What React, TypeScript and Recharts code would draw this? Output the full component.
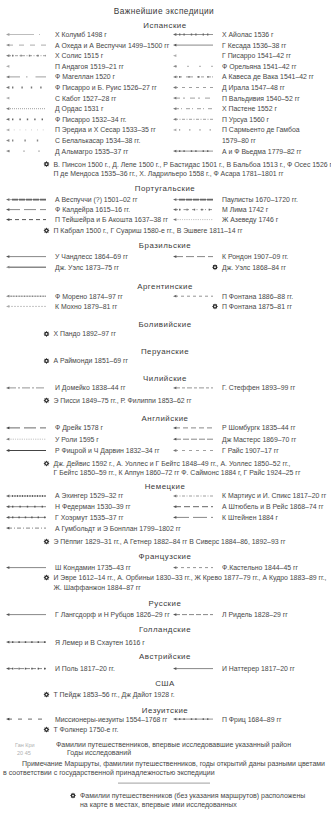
import React from 'react';
import { ScatterChart, Scatter, XAxis, YAxis } from 'recharts';

const W = 331;
const H = 818;
const FONT = '"Liberation Sans", Arial, sans-serif';

// ---------- texts ----------
const title = 'Важнейшие экспедиции';

const spanishLeft = [
  'Х Колумб 1498 г',
  'А Охеда и А Веспуччи 1499–1500 гг',
  'Х Солис 1515 г',
  'П Андагоя 1519–21 гг',
  'Ф Магеллан 1520 г',
  'Ф Писарро и Б. Руис 1526–27 гг',
  'С Кабот 1527–28 гг',
  'Д Ордас 1531 г',
  'Ф Писарро 1532–34 гг.',
  'П Эредиа и Х Сесар 1533–35 гг',
  'С Белалькасар 1534–38 гг.',
  'Д Альмагро 1535–37 гг',
];
const spanishRight = [
  'Х Айолас 1536 г',
  'Г Кесада 1536–38 гг',
  'Г Писарро 1541–42 гг',
  'Ф Орельяна 1541–42 гг',
  'А Кавеса де Вака 1541–42 гг',
  'Д Ирала 1547–48 гг',
  'П Вальдивия 1540–52 гг',
  'Х Пастене 1552 г',
  'П Урсуа 1560 г',
  'П Сармьенто де Гамбоа',
  '1579–80 гг',
  'А и Ф Вьедма 1779–82 гг',
];
const spanishMarked = [
  'В. Пинсон 1500 г., Д. Лепе 1500 г., Р Бастидас 1501 г., В Бальбоа 1513 г., Ф Осес 1526 г',
  'П де Мендоса 1535–36 гг., Х. Ладрильеро 1558 г., Ф Асара 1781–1801 гг',
];

const portLeft = ['А Веспуччи (?) 1501–02 гг', 'Ф Калдейра 1615–16 гг.', 'П Тейшейра и Б Акошта 1637–38 гг'];
const portRight = ['Паулисты 1670–1720 гг.', 'М Лима 1742 г', 'Ж Азеведу 1746 г'];
const portMarked = ['П Кабрал 1500 г., Г Суариш 1580-е гг., В Эшвеге 1811–14 гг'];

const brazLeft = ['У Чандлесс 1864–69 гг', 'Дж. Уэлс 1873–75 гг'];
const brazRight = ['К Рондон 1907–09 гг.'];
const brazRightMarked = ['Дж. Уэлс 1868–84 гг'];

const argLeft = ['Ф Морено 1874–97 гг', 'К Мохно 1879–81 гг'];
const argRight = ['П Фонтана 1886–88 гг.'];
const argRightMarked = ['П Фонтана 1875–81 гг'];

const bolMarked = ['Х Пандо 1892–97 гг'];
const peruMarked = ['А Раймонди 1851–69 гг'];

const chileLeft = ['И Домейко 1838–44 гг'];
const chileRight = ['Г. Стеффен 1893–99 гг'];
const chileMarked = ['Э Писси 1849–75 гг., Р. Филиппи 1853–62 гг'];

const engLeft = ['Ф Дрейк 1578 г', 'У Роли 1595 г', 'Р Фицрой и Ч Дарвин 1832–34 гг'];
const engRight = ['Р Шомбургк 1835–44 гг', 'Дж Мастерс 1869–70 гг', 'Г Райс 1907–17 гг'];
const engMarked = [
  'Дж. Дейвис 1592 г., А. Уоллес и Г Бейтс 1848–49 гг., А. Уоллес 1850–52 гг.,',
  'Г Бейтс 1850–59 гг., К Аппун 1860–72 гг  Ф. Саймонс 1884 г, Г Райс 1924–25 гг',
];

const gerLeft = ['А Эхингер 1529–32 гг', 'Н Федерман 1530–39 гг', 'Г Хоэрмут 1535–37 гг', 'А Гумбольдт и Э Бонплан 1799–1802 гг'];
const gerRight = ['К Мартиус и И. Спикс 1817–20 гг', 'А Штюбель и В Рейс 1868–74 гг', 'К Штейнен 1884 г'];
const gerMarked = ['Э Пёппиг 1829–31 гг., А Гетнер 1882–84 гг  В Сиверс 1884–86, 1892–93 гг'];

const frLeft = ['Ш Кондамин 1735–43 гг'];
const frRight = ['Ф.Кастельно 1844–45 гг'];
const frMarked = [
  'И Эвре 1612–14 гг., А. Орбиньи 1830–33 гг., Ж Крево 1877–79 гг., А Кудро 1883–89 гг.,',
  'Ж. Шаффанжон 1884–87 гг',
];

const ruLeft = ['Г Лангсдорф и Н Рубцов 1826–29 гг'];
const ruRight = ['Л Ридель 1828–29 гг'];

const nlLeft = ['Я Лемер и В Схаутен 1616 г'];

const atLeft = ['И Поль 1817–20 гг.'];
const atRight = ['И Наттерер 1817–20 гг'];

const usMarked = ['Т Пейдж 1853–56 гг., Дж Дайот 1928 г.'];

const jesLeft = ['Миссионеры-иезуиты 1554–1768 гг'];
const jesRight = ['П Фриц 1684–89 гг'];
const jesMarked = ['Т Фолкнер 1750-е гг.'];

const legendSamples = ['Ган Кри', '20 45'];
const legendTexts = ['Фамилии путешественников, впервые исследовавшие указанный район', 'Годы исследований'];
const noteLines = [
  'Примечание  Маршруты, фамилии путешественников, годы открытий даны разными цветами',
  'в соответствии с государственной принадлежностью экспедиции',
];
const footerLines = [
  'Фамилии путешественников (без указания маршрутов) расположены',
  'на карте в местах, впервые ими исследованных',
];

// ---------- line styles of the route symbols ----------
type Pat = { thin?: string; bead?: string; color: string; w?: number; noArrow?: boolean };
const PATTERNS: Record<string, Pat> = {
  faint: { thin: '26 5 1 10', color: '#a0a0a0' },
  dash6: { thin: '5 6', color: '#888' },
  dashdot: { thin: '3 1.5 1 1.5', bead: '1.4 7', color: '#777' },
  arrow: { color: '#aaa' },
  magellan: { thin: '12 6 1.5 8', color: '#777' },
  sparse8: { bead: '1.4 8', color: '#777' },
  dotted: { thin: '1 1', color: '#777' },
  sparse6: { bead: '1.4 6', color: '#666' },
  faintdots: { thin: '0.8 5', color: '#aaa' },
  sparse11: { bead: '1.4 11', color: '#888' },
  sparse13: { thin: '2 13', color: '#888' },
  beads: { thin: 'solid', bead: '1.4 3 1.4 6', color: '#666' },
  solid: { thin: 'solid', color: '#555' },
  sparse10: { thin: '2 10', color: '#888' },
  kaveza: { thin: '3 1 3 4', bead: '1.4 8', color: '#777' },
  dash34: { thin: '3 4', color: '#777' },
  dash5325: { thin: '5 3 2 5', color: '#777' },
  dash4214: { thin: '4 2 1 4', color: '#777' },
  dashdotfine: { thin: '3 1.5 1 1.5', color: '#777' },
  faintsparse: { bead: '1.2 9', color: '#aaa' },
  vespucci: { thin: 'solid', bead: '6 1', color: '#666', w: 0.6 },
  gap12: { thin: '12 4', color: '#555' },
  dash43: { thin: '4 3', color: '#444', w: 0.9 },
  lima: { thin: '3 1.5 1 3', bead: '1.4 6', color: '#666' },
  dots: { thin: '0.6 1.2', color: '#777' },
  thickgrey: { thin: 'solid', color: '#888', w: 1.4 },
  gap8: { thin: '8 3', color: '#555' },
  moreno: { thin: '1 0.6', color: '#888', w: 1.4 },
  mohno: { thin: '2 1', color: '#aaa' },
  dash33: { thin: '3 3', color: '#666' },
  domeiko: { thin: '8 2 2 2', color: '#666' },
  steffen: { thin: '5 2 3 2', color: '#666' },
  drake: { thin: '12 4', color: '#444', w: 0.8 },
  thickdark: { thin: 'solid', color: '#444', w: 1.2 },
  dash53: { thin: '5 3', color: '#555' },
  dash62: { thin: '6 2', color: '#555' },
  finebeads: { thin: 'solid', bead: '1 1.5', color: '#666', w: 0.6 },
  bead6: { thin: 'solid', bead: '1.4 6', color: '#555' },
  bead5: { thin: 'solid', bead: '1.4 5', color: '#555' },
  humboldt: { thin: '4 2 1 2', color: '#555' },
  dash63: { thin: '6 3', color: '#555', w: 0.9 },
  gap14: { thin: '14 4', color: '#555' },
  dash52: { thin: '5 2', color: '#555' },
  pohl: { thin: '4 2', bead: '1.4 5', color: '#555' },
  dash46: { thin: '4 6', color: '#444', w: 0.8 },
  none: { color: 'none', noArrow: true },
};

const spanishLeftPat = ['faint', 'dash6', 'dashdot', 'arrow', 'magellan', 'sparse8', 'arrow', 'dotted', 'sparse6', 'faintdots', 'sparse11', 'sparse13'];
const spanishRightPat = ['beads', 'solid', 'arrow', 'sparse10', 'kaveza', 'dash34', 'dash5325', 'dash4214', 'dashdotfine', 'faintsparse', 'none', 'beads'];
const portLeftPat = ['vespucci', 'gap12', 'dash43'];
const portRightPat = ['vespucci', 'lima', 'dots'];
const brazLeftPat = ['solid', 'thickgrey'];
const brazRightPat = ['gap8'];
const argLeftPat = ['moreno', 'mohno'];
const argRightPat = ['dash33'];
const chileLeftPat = ['domeiko'];
const chileRightPat = ['steffen'];
const engLeftPat = ['drake', 'dots', 'thickdark'];
const engRightPat = ['dash53', 'dash62', 'dash34'];
const gerLeftPat = ['finebeads', 'bead6', 'bead5', 'humboldt'];
const gerRightPat = ['dashdotfine', 'dash63', 'gap14'];
const frLeftPat = ['solid'];
const frRightPat = ['dash33'];
const ruLeftPat = ['solid'];
const ruRightPat = ['dash52'];
const nlLeftPat = ['bead5'];
const atLeftPat = ['pohl'];
const atRightPat = ['solid'];
const jesLeftPat = ['dash46'];
const jesRightPat = ['beads'];

// ---------- layout ----------
type Section = {
  name: string;
  left?: string[]; leftPat?: string[];
  right?: string[]; rightPat?: string[];
  rightMarked?: string[];
  marked?: string[];
  gaps: number[]; // before header, header->first, row step, rows->marked, marked line step
};

const sections: Section[] = [
  { name: 'Испанские', left: spanishLeft, leftPat: spanishLeftPat, right: spanishRight, rightPat: spanishRightPat, marked: spanishMarked, gaps: [14, 9.5, 10.6, 13, 9] },
  { name: 'Португальские', left: portLeft, leftPat: portLeftPat, right: portRight, rightPat: portRightPat, marked: portMarked, gaps: [15, 11.5, 10, 11, 9] },
  { name: 'Бразильские', left: brazLeft, leftPat: brazLeftPat, right: brazRight, rightPat: brazRightPat, rightMarked: brazRightMarked, gaps: [14.5, 11.5, 10.6, 0, 0] },
  { name: 'Аргентинские', left: argLeft, leftPat: argLeftPat, right: argRight, rightPat: argRightPat, rightMarked: argRightMarked, gaps: [19, 10, 10.2, 0, 0] },
  { name: 'Боливийские', marked: bolMarked, gaps: [17.5, 10, 0, 0, 0] },
  { name: 'Перуанские', marked: peruMarked, gaps: [17.5, 9.5, 0, 0, 0] },
  { name: 'Чилийские', left: chileLeft, leftPat: chileLeftPat, right: chileRight, rightPat: chileRightPat, marked: chileMarked, gaps: [17.5, 9.5, 10, 12.5, 9] },
  { name: 'Английские', left: engLeft, leftPat: engLeftPat, right: engRight, rightPat: engRightPat, marked: engMarked, gaps: [18, 9.5, 11.3, 13, 9] },
  { name: 'Немецкие', left: gerLeft, leftPat: gerLeftPat, right: gerRight, rightPat: gerRightPat, marked: gerMarked, gaps: [14, 9.5, 10.7, 13.5, 9] },
  { name: 'Французские', left: frLeft, leftPat: frLeftPat, right: frRight, rightPat: frRightPat, marked: frMarked, gaps: [15, 11, 10, 10, 10] },
  { name: 'Русские', left: ruLeft, leftPat: ruLeftPat, right: ruRight, rightPat: ruRightPat, gaps: [16, 11, 10, 0, 0] },
  { name: 'Голландские', left: nlLeft, leftPat: nlLeftPat, gaps: [15, 12.5, 10, 0, 0] },
  { name: 'Австрийские', left: atLeft, leftPat: atLeftPat, right: atRight, rightPat: atRightPat, gaps: [14.5, 12, 10, 0, 0] },
  { name: 'США', marked: usMarked, gaps: [15, 11, 0, 0, 0] },
  { name: 'Иезуитские', left: jesLeft, leftPat: jesLeftPat, right: jesRight, rightPat: jesRightPat, marked: jesMarked, gaps: [16, 8.5, 10, 10.5, 9] },
];

// x is measured in "columns": 0 = left column text, 1 = right column text
const ANCHOR_L = 55;
const ANCHOR_R = 222;
const colOf = (px: number) => (px - ANCHOR_L) / (ANCHOR_R - ANCHOR_L);

type Item = {
  x: number; y: number;
  kind: 'title' | 'header' | 'route' | 'marked' | 'cont' | 'text' | 'sample' | 'rule' | 'star';
  text?: string; pat?: string; fit?: number; x2?: number;
};

const headings: Item[] = [];
const routes: Item[] = [];
const marks: Item[] = [];
const notes: Item[] = [];

let cur = 11;
headings.push({ x: colOf(164), y: cur, kind: 'title', text: title });
sections.forEach((s) => {
  const [before, after, step, markGap, markStep] = s.gaps;
  cur += before;
  headings.push({ x: colOf(165), y: cur, kind: 'header', text: s.name });
  cur += after;
  const left = s.left ?? [];
  const right = s.right ?? [];
  const rightMarked = s.rightMarked ?? [];
  const rows = Math.max(left.length, right.length + rightMarked.length);
  left.forEach((t, i) => routes.push({ x: 0, y: cur + i * step, kind: 'route', text: t, pat: s.leftPat?.[i] }));
  right.forEach((t, i) => routes.push({ x: 1, y: cur + i * step, kind: 'route', text: t, pat: s.rightPat?.[i] }));
  rightMarked.forEach((t, i) => marks.push({ x: 1, y: cur + (right.length + i) * step, kind: 'marked', text: t }));
  if (rows > 0) cur += (rows - 1) * step;
  const marked = s.marked ?? [];
  if (marked.length && rows > 0) cur += markGap;
  marked.forEach((t, i) => {
    if (i > 0) cur += markStep;
    marks.push({ x: colOf(53.5), y: cur, kind: i === 0 ? 'marked' : 'cont', text: t });
  });
});

cur += 15;
notes.push({ x: colOf(15), y: cur, kind: 'sample', text: legendSamples[0] });
notes.push({ x: colOf(56), y: cur, kind: 'text', text: legendTexts[0] });
cur += 8;
notes.push({ x: colOf(17), y: cur, kind: 'sample', text: legendSamples[1] });
notes.push({ x: colOf(67), y: cur, kind: 'text', text: legendTexts[1] });
cur += 10.5;
notes.push({ x: colOf(22), y: cur, kind: 'text', text: noteLines[0], fit: 303 });
cur += 9;
notes.push({ x: colOf(3), y: cur, kind: 'text', text: noteLines[1] });
cur += 11;
notes.push({ x: colOf(118), y: cur, kind: 'rule', x2: 92 });
cur += 12.5;
notes.push({ x: colOf(80), y: cur, kind: 'star', text: footerLines[0] });
cur += 9;
notes.push({ x: colOf(80), y: cur, kind: 'text', text: footerLines[1] });

// ---------- drawing ----------
const TEXT = '#474747';
const BODY = 6.9;

function Star({ x, y }: { x: number; y: number }) {
  const pts: string[] = [];
  for (let i = 0; i < 16; i++) {
    const r = i % 2 ? 2.0 : 3.0;
    const a = (i * Math.PI) / 8;
    pts.push(`${(x + r * Math.cos(a)).toFixed(2)},${(y + r * Math.sin(a)).toFixed(2)}`);
  }
  return (
    <g>
      <polygon points={pts.join(' ')} fill="#2a2a2a" />
      <circle cx={x} cy={y} r={0.9} fill="#fff" />
    </g>
  );
}

function Label({ x, y, text, size = BODY, fill = TEXT, anchor = 'start', fit, spacing }: any) {
  return (
    <text
      x={x}
      y={y + size * 0.36}
      fontSize={size}
      fontFamily={FONT}
      fill={fill}
      textAnchor={anchor}
      letterSpacing={spacing}
      textLength={fit}
      lengthAdjust={fit ? 'spacing' : undefined}
    >
      {text}
    </text>
  );
}

function RouteSymbol({ x0, x1, y, p }: { x0: number; x1: number; y: number; p: Pat }) {
  if (p.noArrow) return null;
  return (
    <g>
      <polygon points={`${x0},${y} ${x0 + 3.4},${y - 1.4} ${x0 + 3.4},${y + 1.4}`} fill={p.color} />
      {p.thin && (
        <line x1={x0 + 2} y1={y} x2={x1} y2={y} stroke={p.color} strokeWidth={p.w ?? 0.7}
          strokeDasharray={p.thin === 'solid' ? undefined : p.thin} />
      )}
      {p.bead && (
        <line x1={x0 + 6} y1={y} x2={x1} y2={y} stroke={p.color} strokeWidth={1.8} strokeDasharray={p.bead} />
      )}
    </g>
  );
}

const drawHeading = (props: any) => {
  const { cx, cy, payload } = props;
  const isTitle = payload.kind === 'title';
  return <Label x={cx} y={cy} text={payload.text} size={isTitle ? 8.3 : 7.9} fill="#3a3a3a" anchor="middle" spacing={isTitle ? 0.4 : 0.5} />;
};

const drawRoute = (props: any) => {
  const { cx, cy, payload } = props;
  const p = PATTERNS[payload.pat ?? 'none'] ?? PATTERNS.none;
  return (
    <g>
      <RouteSymbol x0={cx - 49} x1={cx - 9} y={cy} p={p} />
      <Label x={cx} y={cy} text={payload.text} />
    </g>
  );
};

const drawMark = (props: any) => {
  const { cx, cy, payload } = props;
  return (
    <g>
      {payload.kind === 'marked' && <Star x={cx - 7} y={cy} />}
      <Label x={cx} y={cy} text={payload.text} />
    </g>
  );
};

const drawNote = (props: any) => {
  const { cx, cy, payload } = props;
  if (payload.kind === 'rule') {
    return <line x1={cx} y1={cy} x2={cx + payload.x2} y2={cy} stroke="#888" strokeWidth={0.8} />;
  }
  if (payload.kind === 'sample') {
    return <Label x={cx} y={cy} text={payload.text} size={5.5} fill="#b0b0b0" />;
  }
  return (
    <g>
      {payload.kind === 'star' && <Star x={cx - 7} y={cy} />}
      <Label x={cx} y={cy} text={payload.text} size={7} fit={payload.fit} />
    </g>
  );
};

export default function App() {
  return (
    <div style={{ width: W, height: H, background: '#fff' }}>
      <style>{'body{margin:0}'}</style>
      <ScatterChart width={W} height={H} margin={{ top: 0, right: 0, bottom: 0, left: 0 }}>
        <XAxis type="number" dataKey="x" domain={[colOf(0), colOf(W)]} allowDataOverflow hide />
        <YAxis type="number" dataKey="y" domain={[0, H]} reversed allowDataOverflow hide />
        <Scatter data={headings} shape={drawHeading} isAnimationActive={false} />
        <Scatter data={routes} shape={drawRoute} isAnimationActive={false} />
        <Scatter data={marks} shape={drawMark} isAnimationActive={false} />
        <Scatter data={notes} shape={drawNote} isAnimationActive={false} />
      </ScatterChart>
    </div>
  );
}
